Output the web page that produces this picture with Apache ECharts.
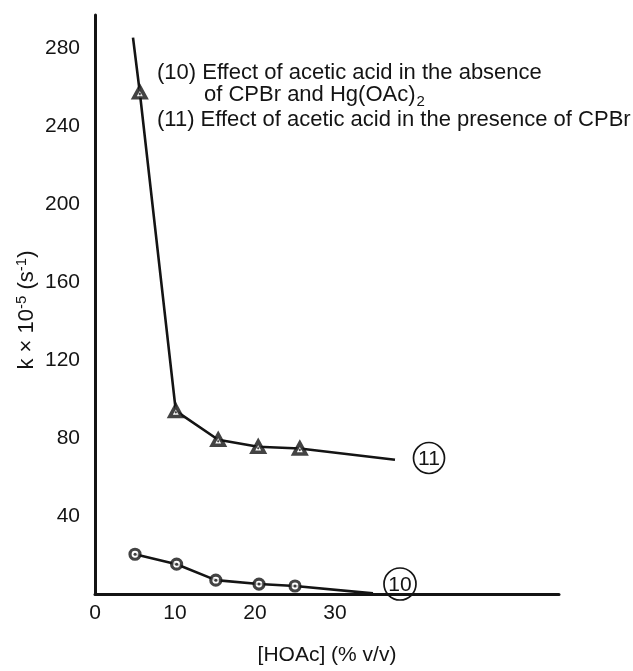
<!DOCTYPE html>
<html><head><meta charset="utf-8">
<script src="https://cdn.jsdelivr.net/npm/echarts@6/dist/echarts.min.js"></script>
<style>html,body{margin:0;padding:0;background:#fff}#c{width:633px;height:671px}</style>
</head><body><div id="c"></div>
<script>
// ---- data ----
const xTickLabels = [0, 10, 20, 30];
const yTickLabels = [40, 80, 120, 160, 200, 240, 280];
// curve (11): in presence of CPBr (triangles)
const hoac11 = [5.6, 10.1, 15.4, 20.4, 25.6];
const k11 = [257.3, 93.9, 79.1, 75.5, 74.6];
// curve (10): absence of CPBr and Hg(OAc)2 (circles)
const hoac10 = [5.0, 10.2, 15.1, 20.5, 25.0];
const k10 = [20.4, 15.3, 7.1, 5.1, 4.1];
// hand-drawn curve extents beyond the measured points
const curve11Start = [4.75, 285.4];
const curve11End = [37.5, 68.9];
const curve10End = [34.75, 0.3];
const legendLines = [
  '(10) Effect of acetic acid in the absence',
  'of CPBr and Hg(OAc)',
  '(11) Effect of acetic acid in the presence of CPBr'
];
const curveTags = ['11', '10'];

const pts11 = hoac11.map((x, i) => [x, k11[i]]);
const pts10 = hoac10.map((x, i) => [x, k10[i]]);
const INK = '#141414';
const FONT = '"Liberation Sans", Arial, Helvetica, sans-serif';

// measure legend line 2 so the subscript follows it
const mctx = document.createElement('canvas').getContext('2d');
mctx.font = '22px ' + FONT;
const line2W = mctx.measureText(legendLines[1]).width;

const chart = echarts.init(document.getElementById('c'), null, {renderer: 'canvas'});
const option = {
  backgroundColor: '#ffffff',
  animation: false,
  grid: {left: 95, right: 74, top: 15, bottom: 74, containLabel: false},
  xAxis: {
    type: 'value', min: 0, max: 58, interval: 10,
    axisLine: {show: true, lineStyle: {color: INK, width: 3}},
    axisTick: {show: false}, splitLine: {show: false},
    axisLabel: {
      margin: 9, fontSize: 21, color: INK, fontFamily: FONT,
      formatter: v => xTickLabels.includes(v) ? String(v) : ''
    },
    name: '[HOAc] (% v/v)', nameLocation: 'middle', nameGap: 51,
    nameTextStyle: {fontSize: 21, color: INK, fontFamily: FONT}
  },
  yAxis: {
    type: 'value', min: 0, max: 297, interval: 40,
    axisLine: {show: true, lineStyle: {color: INK, width: 3}},
    axisTick: {show: false}, splitLine: {show: false},
    axisLabel: {
      margin: 15, fontSize: 21, color: INK, fontFamily: FONT,
      formatter: v => yTickLabels.includes(v) ? String(v) : ''
    }
  },
  series: [
    {type: 'line', data: [curve11Start, ...pts11, curve11End], symbol: 'none',
     lineStyle: {color: INK, width: 2.6}, z: 2},
    {type: 'line', data: [...pts10, curve10End], symbol: 'none',
     lineStyle: {color: INK, width: 2.6}, z: 2},
    {type: 'scatter', data: pts11, symbol: 'triangle', symbolSize: [12, 11],
     itemStyle: {color: '#fff', borderColor: INK, borderWidth: 3.6, borderJoin: 'miter'}, z: 3},
    {type: 'scatter', data: pts11, symbol: 'circle', symbolSize: 2.2, symbolOffset: [0, 1.5],
     itemStyle: {color: INK}, z: 4},
    {type: 'scatter', data: pts10, symbol: 'circle', symbolSize: 10,
     itemStyle: {color: '#fff', borderColor: INK, borderWidth: 3.2}, z: 3},
    {type: 'scatter', data: pts10, symbol: 'circle', symbolSize: 3,
     itemStyle: {color: INK}, z: 4}
  ],
  graphic: [
    {type: 'text', x: 157, y: 73, style: {text: legendLines[0], font: '22px ' + FONT, fill: INK, verticalAlign: 'middle', align: 'left'}},
    {type: 'text', x: 204, y: 95, style: {text: legendLines[1], font: '22px ' + FONT, fill: INK, verticalAlign: 'middle', align: 'left'}},
    {type: 'text', x: 204 + line2W + 1, y: 102, style: {text: '2', font: '15px ' + FONT, fill: INK, verticalAlign: 'middle', align: 'left'}},
    {type: 'text', x: 157, y: 120, style: {text: legendLines[2], font: '22px ' + FONT, fill: INK, verticalAlign: 'middle', align: 'left'}},
    {type: 'text', x: 27, y: 310, rotation: Math.PI / 2,
     style: {
       text: '{n|k × 10}{s|-5}{n| (s}{s|-1}{n|)}',
       align: 'center', verticalAlign: 'middle', fill: INK,
       rich: {
         n: {fontSize: 22, lineHeight: 26, fontFamily: FONT, fill: INK, color: INK},
         s: {fontSize: 15, lineHeight: 16, fontFamily: FONT, verticalAlign: 'top', fill: INK, color: INK}
       }
     }},
    {type: 'circle', shape: {cx: 429, cy: 458, r: 15.5}, style: {fill: 'none', stroke: INK, lineWidth: 1.7}},
    {type: 'text', x: 429, y: 459, style: {text: curveTags[0], font: '21px ' + FONT, fill: INK, align: 'center', verticalAlign: 'middle'}},
    {type: 'circle', shape: {cx: 400, cy: 584, r: 16}, style: {fill: 'none', stroke: INK, lineWidth: 1.7}},
    {type: 'text', x: 400, y: 585, style: {text: curveTags[1], font: '21px ' + FONT, fill: INK, align: 'center', verticalAlign: 'middle'}}
  ]
};
chart.setOption(option);
</script>
</body></html>
